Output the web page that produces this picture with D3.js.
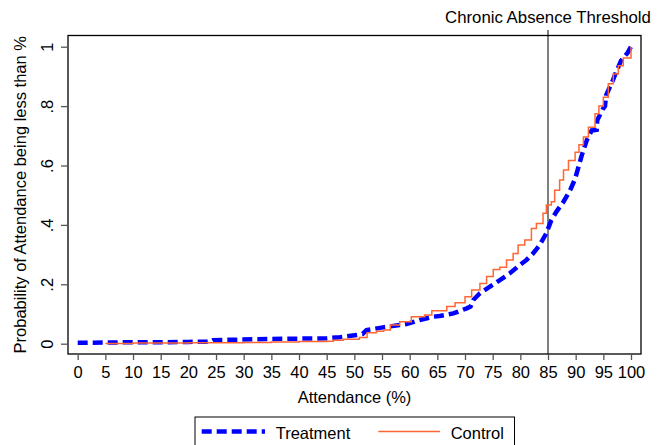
<!DOCTYPE html>
<html>
<head>
<meta charset="utf-8">
<script src="https://cdn.jsdelivr.net/npm/d3@7"></script>
<style>
  body { margin: 0; background: #fff; }
  svg { display: block; font-family: "Liberation Sans", Arial, sans-serif; }
</style>
</head>
<body>
<div id="chart"></div>
<script>
// attendance (%) and cumulative share
const treatX = [0, 5, 10, 15, 20, 24, 24.5, 35, 45, 47.4, 50.4, 51.5, 52.2, 55.2, 58.2, 59.4, 61.8, 64.3, 65.4, 67.9, 70.3, 71, 71.5, 72.7, 74.5, 76.3, 78.1, 79.9, 81.1, 82.3, 83.5, 84.7, 85.6, 86.5, 87.8, 89, 89.9, 91.1, 92, 92.9, 93.8, 93.9, 94.9, 95.3, 95.5, 96.7, 97.3, 98.2, 99.4, 100];
const treatY = [0.003, 0.004, 0.005, 0.005, 0.006, 0.007, 0.012, 0.016, 0.018, 0.022, 0.029, 0.033, 0.046, 0.055, 0.063, 0.066, 0.08, 0.091, 0.093, 0.102, 0.119, 0.125, 0.147, 0.17, 0.192, 0.214, 0.237, 0.265, 0.282, 0.304, 0.332, 0.372, 0.416, 0.444, 0.478, 0.517, 0.555, 0.634, 0.685, 0.718, 0.72, 0.752, 0.79, 0.80, 0.836, 0.886, 0.914, 0.953, 0.98, 1.0];

const ctrlX = [5, 10, 20, 30, 35, 40, 45, 46.2, 48, 50.9, 52.3, 54, 55.3, 56.5, 58.2, 60.3, 62.7, 64, 66.7, 68.2, 70, 71.2, 72.7, 73.9, 75.1, 76.3, 77.5, 78.7, 79.6, 80.8, 82, 82.9, 84.1, 84.7, 85.6, 86.2, 87.1, 87.8, 88.7, 89.9, 90.6, 91.4, 92.3, 93.5, 94.2, 95, 95.9, 96.8, 97.7, 98.6, 100, 100];
const ctrlY = [0.001, 0.002, 0.003, 0.004, 0.006, 0.007, 0.008, 0.012, 0.015, 0.021, 0.037, 0.042, 0.046, 0.063, 0.074, 0.091, 0.097, 0.111, 0.125, 0.138, 0.158, 0.181, 0.203, 0.226, 0.25, 0.257, 0.282, 0.304, 0.332, 0.349, 0.388, 0.405, 0.439, 0.467, 0.478, 0.517, 0.551, 0.585, 0.617, 0.645, 0.67, 0.696, 0.729, 0.774, 0.8, 0.83, 0.875, 0.908, 0.936, 0.962, 0.965, 1.0];

const xTicks = d3.range(0, 101, 5);
const yTicks = [0, 0.2, 0.4, 0.6, 0.8, 1];
const yTickLabels = ["0", ".2", ".4", ".6", ".8", "1"];
const threshold = 85;

const width = 666;
const height = 445;
const frame = { left: 68, right: 641, top: 35.5, bottom: 354 };
const fontSize = 16.5;

const x = d3.scaleLinear().domain([0, 100]).range([77.7, 631]);
const y = d3.scaleLinear().domain([0, 1]).range([343.7, 46.7]);

const svg = d3.select("#chart").append("svg")
    .attr("width", width)
    .attr("height", height);

svg.append("rect")
    .attr("width", width).attr("height", height)
    .attr("fill", "#fff");

// plot frame
svg.append("rect")
    .attr("x", frame.left).attr("y", frame.top)
    .attr("width", frame.right - frame.left)
    .attr("height", frame.bottom - frame.top)
    .attr("fill", "none")
    .attr("stroke", "#000")
    .attr("stroke-width", 1.3);

// x axis
const xAxis = svg.append("g")
    .attr("transform", `translate(0,${frame.bottom})`)
    .call(d3.axisBottom(x).tickValues(xTicks).tickSize(6).tickPadding(6));
xAxis.select(".domain").remove();
xAxis.selectAll(".tick line").attr("stroke", "#555").attr("stroke-width", 1.3);
xAxis.selectAll(".tick text")
    .attr("font-size", fontSize)
    .attr("font-family", "Liberation Sans, Arial, sans-serif")
    .attr("fill", "#000");

// y axis with vertical labels
const yAxis = svg.append("g")
    .attr("transform", `translate(${frame.left},0)`)
    .call(d3.axisLeft(y).tickValues(yTicks).tickSize(7)
        .tickFormat((d, i) => yTickLabels[i]));
yAxis.select(".domain").remove();
yAxis.selectAll(".tick line").attr("stroke", "#555").attr("stroke-width", 1.3);
yAxis.selectAll(".tick text")
    .attr("font-size", fontSize)
    .attr("font-family", "Liberation Sans, Arial, sans-serif")
    .attr("fill", "#000")
    .attr("text-anchor", "middle")
    .attr("dy", null)
    .attr("x", null)
    .attr("transform", "translate(-15,0) rotate(-90)");

// axis titles
svg.append("text")
    .attr("x", (frame.left + frame.right) / 2)
    .attr("y", 403)
    .attr("text-anchor", "middle")
    .attr("font-size", fontSize)
    .text("Attendance (%)");

svg.append("text")
    .attr("transform", `translate(26,${(frame.top + frame.bottom) / 2}) rotate(-90)`)
    .attr("text-anchor", "middle")
    .attr("font-size", fontSize)
    .text("Probability of Attendance being less than %");

// threshold line and label
svg.append("line")
    .attr("x1", x(threshold)).attr("x2", x(threshold))
    .attr("y1", 30).attr("y2", frame.bottom)
    .attr("stroke", "#000")
    .attr("stroke-width", 1);

svg.append("text")
    .attr("x", x(threshold))
    .attr("y", 23)
    .attr("text-anchor", "middle")
    .attr("font-size", 16.8)
    .text("Chronic Absence Threshold");

// curves
const stepLine = d3.line()
    .x(d => x(d[0]))
    .y(d => y(d[1]))
    .curve(d3.curveStepAfter);

const plainLine = d3.line()
    .x(d => x(d[0]))
    .y(d => y(d[1]));

const ctrl = d3.zip(ctrlX, ctrlY);
const treat = d3.zip(treatX, treatY);

svg.append("path")
    .datum(treat)
    .attr("fill", "none")
    .attr("stroke", "#0000ff")
    .attr("stroke-width", 4.5)
    .attr("stroke-dasharray", "10,5")
    .attr("d", plainLine);

svg.append("path")
    .datum(ctrl)
    .attr("fill", "none")
    .attr("stroke", "#ff6633")
    .attr("stroke-width", 1.5)
    .attr("d", stepLine);

// legend
const legend = svg.append("g");
legend.append("rect")
    .attr("x", 195).attr("y", 417)
    .attr("width", 319.5).attr("height", 40)
    .attr("fill", "#fff")
    .attr("stroke", "#000")
    .attr("stroke-width", 1);

legend.append("line")
    .attr("x1", 201.7).attr("x2", 265)
    .attr("y1", 431.5).attr("y2", 431.5)
    .attr("stroke", "#0000ff")
    .attr("stroke-width", 4.5)
    .attr("stroke-dasharray", "10,5");
legend.append("text")
    .attr("x", 275.7).attr("y", 438.5)
    .attr("font-size", fontSize)
    .text("Treatment");

legend.append("line")
    .attr("x1", 378.3).attr("x2", 440)
    .attr("y1", 431.5).attr("y2", 431.5)
    .attr("stroke", "#ff6633")
    .attr("stroke-width", 1.5);
legend.append("text")
    .attr("x", 450.7).attr("y", 438.5)
    .attr("font-size", fontSize)
    .text("Control");
</script>
</body>
</html>
